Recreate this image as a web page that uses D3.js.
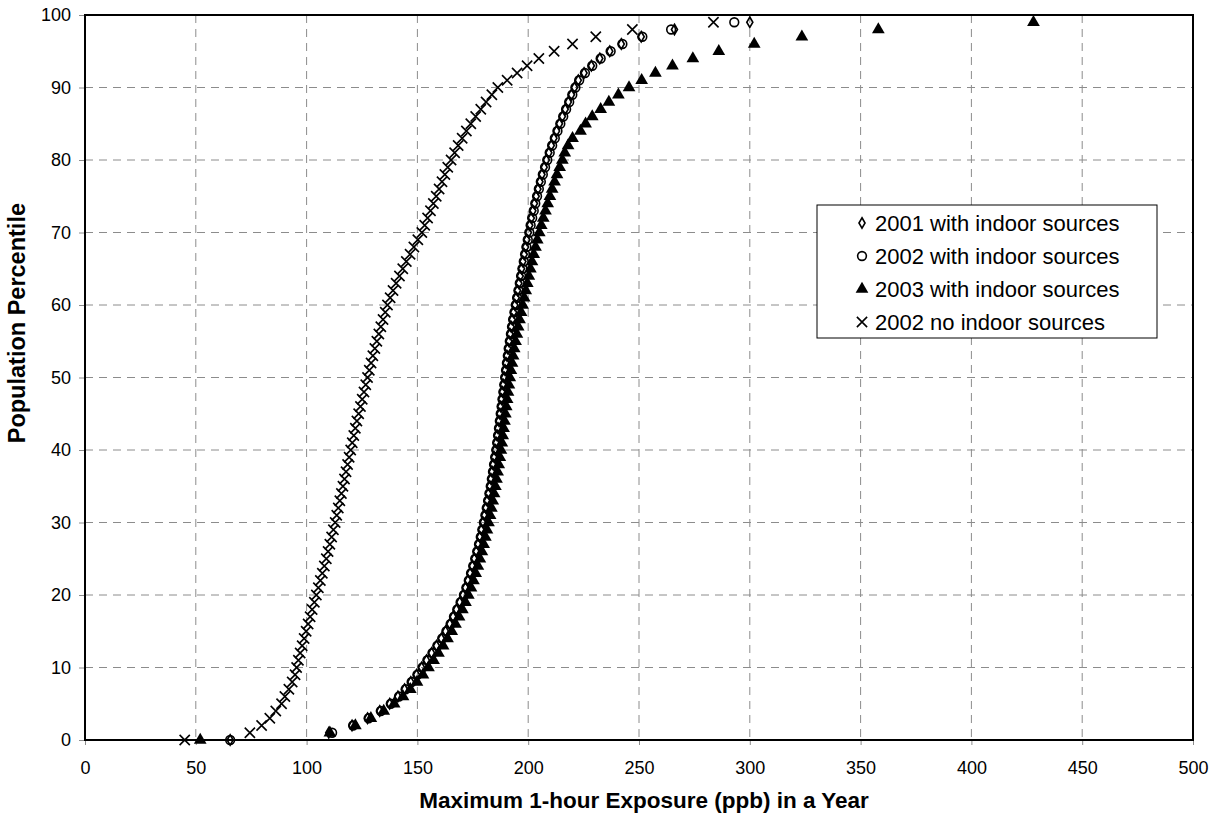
<!DOCTYPE html>
<html><head><meta charset="utf-8">
<script src="https://cdn.jsdelivr.net/npm/d3@7"></script>
<style>body{margin:0;background:#fff}svg{display:block}text{font-family:Arial,"Liberation Sans",sans-serif}</style>
</head><body><svg id="c" width="1222" height="817"></svg>
<script>
const percentiles = d3.range(0,100);
const xTicks = [0,50,100,150,200,250,300,350,400,450,500];
const yTicks = [0,10,20,30,40,50,60,70,80,90,100];
const seriesNames = ["2001 with indoor sources","2002 with indoor sources","2003 with indoor sources","2002 no indoor sources"];
const with2001 = [65.5,110,120.5,127.5,133,137.5,141.2,144.2,147,149.6,151.9,154.1,156.4,158.6,160.8,162.7,164.6,166.1,167.6,169.1,170.6,171.7,172.8,173.8,174.8,175.7,176.6,177.4,178.2,178.9,179.6,180.3,180.9,181.5,182.1,182.7,183.2,183.7,184.2,184.7,185.2,185.6,186.0,186.4,186.8,187.2,187.6,188.0,188.4,188.8,189.2,189.6,190.0,190.4,190.8,191.3,191.8,192.3,192.8,193.4,194.0,194.6,195.2,195.8,196.4,197.0,197.6,198.2,198.8,199.4,200.1,200.7,201.4,202.1,202.8,203.6,204.4,205.3,206.2,207.2,208.2,209.3,210.4,211.6,212.8,214.1,215.4,216.7,218.1,219.5,220.9,222.6,225.2,228.5,232.3,236.8,242,251,266,300];
const with2002 = [65.5,111.5,121,128,133.5,138,141.7,144.7,147.4,150,152.3,154.5,156.8,159,161.2,163.1,165,166.5,168,169.5,171,172.1,173.2,174.2,175.2,176.1,177,177.8,178.6,179.3,180,180.7,181.3,181.9,182.5,183.1,183.6,184.1,184.6,185.1,185.6,186.0,186.4,186.8,187.2,187.6,188.0,188.4,188.8,189.2,189.6,190.0,190.4,190.8,191.2,191.7,192.2,192.7,193.2,193.8,194.4,195.0,195.6,196.2,196.8,197.4,198.0,198.6,199.2,199.8,200.5,201.1,201.8,202.5,203.2,204.0,204.8,205.7,206.6,207.6,208.6,209.7,210.8,212.0,213.2,214.5,215.8,217.1,218.5,219.9,221.3,223,225.6,228.9,232.7,237.2,242.5,251.5,264.5,293];
const with2003 = [52,110.5,122,129,134.8,139.5,143.5,146.8,149.8,152.5,155,157.3,159.5,161.6,163.6,165.5,167.2,168.8,170.3,171.7,173,174.2,175.3,176.3,177.3,178.2,179.1,179.9,180.7,181.4,182.1,182.8,183.4,184.0,184.6,185.2,185.7,186.2,186.7,187.2,187.7,188.1,188.5,188.9,189.3,189.7,190.1,190.5,190.9,191.3,191.7,192.2,192.7,193.2,193.7,194.3,194.9,195.5,196.1,196.8,197.5,198.2,198.9,199.6,200.3,201.0,201.7,202.5,203.3,204.1,205.0,205.9,206.8,207.8,208.8,209.8,210.8,211.9,213.0,214.2,215.4,216.5,218,220,223.6,225.9,228.9,232.7,236.4,240.7,245.5,251.2,257.4,265.1,274.3,286,302,323.5,358,428];
const noIndoor2002 = [45,74.4,79.7,83.4,86.1,88.7,90.2,92.0,93.5,94.8,95.5,96.3,97.1,98.0,98.9,99.8,100.7,101.6,102.5,103.5,104.4,105.3,106.2,107.1,108.0,108.9,109.7,110.5,111.3,112.1,112.9,113.6,114.3,115.0,115.7,116.4,117.1,117.8,118.5,119.2,119.9,120.6,121.3,122.0,122.7,123.5,124.3,125.1,125.9,126.7,127.5,128.3,129.1,129.9,130.8,131.7,132.6,133.5,134.5,135.5,136.5,137.7,139.0,140.4,141.9,143.4,145.0,146.7,148.4,150.2,152,153.3,154.6,155.9,157.2,158.5,159.8,161.1,162.4,163.7,165.2,166.8,168.4,170.2,172.1,174.1,176.3,178.6,181.0,183.6,186.3,190.5,195,199.5,204.8,211.7,220,230.5,247,283.6];

const svg = d3.select("#c");
const L=85, R=1193, T=15, B=740;
const x = d3.scaleLinear().domain([0,500]).range([L,R]);
const y = d3.scaleLinear().domain([0,100]).range([B,T]);
const FONT = "Arial, 'Liberation Sans', sans-serif";

const g = svg.append("g");
g.selectAll(".vg").data(xTicks.slice(1,-1)).join("line")
  .attr("x1",d=>x(d)).attr("x2",d=>x(d)).attr("y1",T).attr("y2",B)
  .attr("stroke","#8c8c8c").attr("stroke-width",1).attr("stroke-dasharray","8,6");
g.selectAll(".hg").data(yTicks.slice(1,-1)).join("line")
  .attr("x1",L).attr("x2",R).attr("y1",d=>y(d)).attr("y2",d=>y(d))
  .attr("stroke","#8c8c8c").attr("stroke-width",1).attr("stroke-dasharray","8,6");

const xa = svg.append("g").attr("transform",`translate(0,${B})`)
  .call(d3.axisBottom(x).tickValues(xTicks).tickSize(5).tickPadding(16));
const ya = svg.append("g").attr("transform",`translate(${L},0)`)
  .call(d3.axisLeft(y).tickValues(yTicks).tickSize(6).tickPadding(8));
[xa,ya].forEach(a=>{a.select(".domain").remove();a.selectAll(".tick line").attr("stroke","#8c8c8c");a.selectAll("text").attr("font-size",18).attr("fill","#000").style("font-family",FONT);});

svg.append("rect").attr("x",L).attr("y",T).attr("width",R-L).attr("height",B-T)
  .attr("fill","none").attr("stroke","#000").attr("stroke-width",2);

const shapes = {
  diamond: d3.symbol().type(d3.symbolDiamond).size(32),
  circle: d3.symbol().type(d3.symbolCircle).size(60),
  triangle: d3.symbol().type(d3.symbolTriangle).size(70),
  cross: d3.symbol().type(d3.symbolTimes || d3.symbolX).size(70)
};
function styleMark(sel, kind){
  if(kind==="triangle") sel.attr("fill","#000").attr("stroke","none");
  else sel.attr("fill","none").attr("stroke","#000").attr("stroke-width",1.6);
}
function drawSeries(vals, kind){
  const pts = vals.map((v,i)=>[v,percentiles[i]]);
  svg.append("g").selectAll("path").data(pts).join("path")
    .attr("transform",d=>`translate(${x(d[0])},${y(d[1])})`)
    .attr("d", shapes[kind]()).call(styleMark, kind);
}
drawSeries(noIndoor2002,"cross");
drawSeries(with2003,"triangle");
drawSeries(with2002,"circle");
drawSeries(with2001,"diamond");

svg.append("text").attr("x",(L+R)/2+5).attr("y",808).attr("text-anchor","middle")
  .attr("font-size",22.5).attr("font-weight","bold").text("Maximum 1-hour Exposure (ppb) in a Year");
svg.append("text").attr("transform",`translate(25,${y(57.5)}) rotate(-90)`).attr("text-anchor","middle")
  .attr("font-size",23.5).attr("font-weight","bold").text("Population Percentile");

const lg = svg.append("g");
lg.append("rect").attr("x",817).attr("y",205).attr("width",340).attr("height",133)
  .attr("fill","#fff").attr("stroke","#000").attr("stroke-width",1);
const kinds=["diamond","circle","triangle","cross"];
seriesNames.forEach((n,i)=>{
  const cy = 223 + i*33;
  lg.append("path").attr("transform",`translate(862,${cy})`).attr("d",shapes[kinds[i]]()).call(styleMark,kinds[i]);
  lg.append("text").attr("x",875).attr("y",cy+8).attr("font-size",22).text(n);
});
</script></body></html>
